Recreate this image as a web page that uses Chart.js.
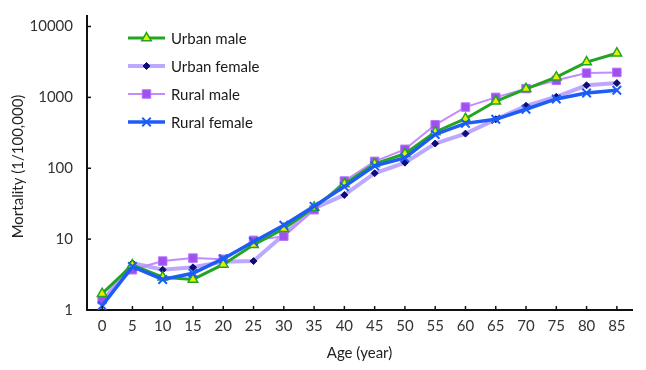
<!DOCTYPE html>
<html>
<head>
<meta charset="utf-8">
<script src="https://cdn.jsdelivr.net/npm/chart.js@4.4.0/dist/chart.umd.min.js"></script>
<style>
  html, body { margin: 0; padding: 0; background: #ffffff; }
  #wrap { width: 646px; height: 370px; position: relative; }
</style>
</head>
<body>
<div id="wrap"><canvas id="mortalityChart" width="646" height="370"></canvas></div>
<script>
const ages = ['0', '5', '10', '15', '20', '25', '30', '35', '40', '45', '50', '55', '60', '65', '70', '75', '80', '85'];
const urbanMale = [1.7, 4.3, 2.9, 2.7, 4.4, 8.3, 14, 28, 60, 115, 160, 325, 500, 880, 1320, 1930, 3150, 4200];
const urbanFemale = [1.3, 4.6, 3.7, 4.0, 4.8, 4.9, 11.5, 27, 42, 85, 120, 223, 308, 490, 760, 1020, 1480, 1590];
const ruralMale = [1.4, 3.7, 4.9, 5.4, 5.2, 9.6, 11, 26, 66, 125, 185, 410, 730, 1000, 1330, 1740, 2200, 2250];
const ruralFemale = [1.15, 4.1, 2.7, 3.3, 5.3, 9.2, 15.7, 29, 55, 108, 140, 300, 430, 490, 680, 950, 1150, 1260];
const yTicks = [1, 10, 100, 1000, 10000];

const fontFamily = 'Lato, "Open Sans", sans-serif';

// legend drawn inside the plot, line + marker like the original
const insideLegend = {
    id: 'insideLegend',
    afterDatasetsDraw(chart) {
        const ctx = chart.ctx;
        const sets = chart.data.datasets;
        ctx.save();
        sets.forEach((ds, i) => {
            const y = 38 + i * 28;
            ctx.strokeStyle = ds.borderColor;
            ctx.lineWidth = ds.borderWidth;
            ctx.beginPath();
            ctx.moveTo(128, y);
            ctx.lineTo(165, y);
            ctx.stroke();
            ctx.fillStyle = ds.pointBackgroundColor;
            ctx.strokeStyle = ds.pointBorderColor;
            ctx.lineWidth = ds.pointBorderWidth;
            Chart.helpers.drawPoint(ctx, {
                pointStyle: ds.pointStyle,
                radius: ds.pointRadius,
                rotation: 0,
                borderWidth: ds.pointBorderWidth
            }, 146.5, y);
            ctx.fillStyle = '#1a1a1a';
            ctx.font = '15px ' + fontFamily;
            ctx.textBaseline = 'middle';
            ctx.textAlign = 'left';
            ctx.fillText(ds.label, 171, y + 1);
        });
        ctx.restore();
    }
};

// y axis line (runs a bit above the top tick) and small inward tick marks
const innerTicks = {
    id: 'innerTicks',
    afterDraw(chart) {
        const ctx = chart.ctx;
        const xs = chart.scales.x;
        const ys = chart.scales.y;
        ctx.save();
        ctx.strokeStyle = '#111111';
        ctx.lineWidth = 2;
        ctx.beginPath();
        ctx.moveTo(ys.right, xs.top + 1);
        ctx.lineTo(ys.right, 15);
        ctx.stroke();
        ctx.lineWidth = 1.5;
        ys.ticks.forEach(t => {
            const py = ys.getPixelForValue(t.value);
            ctx.beginPath();
            ctx.moveTo(ys.right, py);
            ctx.lineTo(ys.right + 4, py);
            ctx.stroke();
        });
        ages.forEach((a, i) => {
            const px = xs.getPixelForValue(i);
            ctx.beginPath();
            ctx.moveTo(px, xs.top);
            ctx.lineTo(px, xs.top - 4);
            ctx.stroke();
        });
        ctx.restore();
    }
};

function initializeChart() {
    const ctx = document.getElementById('mortalityChart').getContext('2d');

    new Chart(ctx, {
        type: 'line',
        data: {
            labels: ages,
            datasets: [{
                label: 'Urban male',
                data: urbanMale,
                borderColor: '#22a522',
                borderWidth: 3,
                pointStyle: 'triangle',
                pointRadius: 5.5,
                pointBackgroundColor: '#e4f000',
                pointBorderColor: '#22a522',
                pointBorderWidth: 1.5,
                order: 1
            }, {
                label: 'Urban female',
                data: urbanFemale,
                borderColor: '#bca8ff',
                borderWidth: 4,
                pointStyle: 'rectRot',
                pointRadius: 3.5,
                pointBackgroundColor: '#0c0c78',
                pointBorderColor: '#0c0c78',
                pointBorderWidth: 1,
                order: 3
            }, {
                label: 'Rural male',
                data: ruralMale,
                borderColor: '#c28cff',
                borderWidth: 2,
                pointStyle: 'rect',
                pointRadius: 6,
                pointBackgroundColor: '#a24ff0',
                pointBorderColor: '#b474ff',
                pointBorderWidth: 1,
                order: 2
            }, {
                label: 'Rural female',
                data: ruralFemale,
                borderColor: '#1d5cf5',
                borderWidth: 3.5,
                pointStyle: 'crossRot',
                pointRadius: 6,
                pointBackgroundColor: '#1d5cf5',
                pointBorderColor: '#1d5cf5',
                pointBorderWidth: 2,
                order: 0
            }]
        },
        options: {
            responsive: false,
            animation: false,
            layout: {
                padding: { left: 9, top: 15, right: 14, bottom: 0 }
            },
            plugins: {
                legend: { display: false },
                tooltip: { enabled: false }
            },
            elements: {
                line: { tension: 0 }
            },
            scales: {
                x: {
                    type: 'category',
                    offset: true,
                    grid: { display: false, drawTicks: false },
                    border: { display: true, color: '#111111', width: 2 },
                    ticks: {
                        color: '#333333',
                        padding: 7,
                        font: { family: fontFamily, size: 15 },
                        maxRotation: 0,
                        autoSkip: false
                    },
                    title: {
                        display: true,
                        text: 'Age (year)',
                        color: '#222222',
                        padding: { top: 2, bottom: 8 },
                        font: { family: fontFamily, size: 15 }
                    },
                    afterFit(scale) { scale.height = 60; }
                },
                y: {
                    type: 'logarithmic',
                    min: 1,
                    max: 11200,
                    grid: { display: false, drawTicks: false },
                    border: { display: false },
                    afterBuildTicks(scale) {
                        scale.ticks = yTicks.map(v => ({ value: v }));
                    },
                    ticks: {
                        color: '#333333',
                        padding: 14,
                        font: { family: fontFamily, size: 15 },
                        callback: function(value) {
                            return String(value);
                        }
                    },
                    title: {
                        display: true,
                        text: 'Mortality (1/100,000)',
                        color: '#222222',
                        padding: { top: 0, bottom: 4 },
                        font: { family: fontFamily, size: 15 }
                    },
                    afterFit(scale) { scale.width = 78; }
                }
            }
        },
        plugins: [insideLegend, innerTicks]
    });
}

document.addEventListener('DOMContentLoaded', initializeChart);
</script>
</body>
</html>
